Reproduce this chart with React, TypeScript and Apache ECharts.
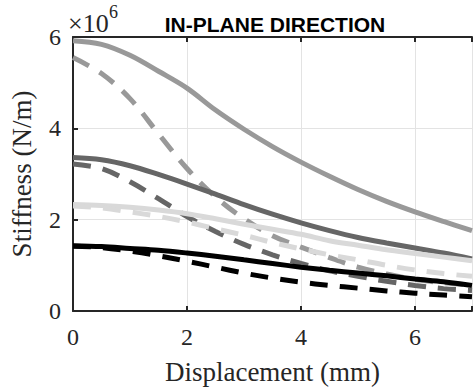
import React, { useEffect, useRef } from "react";
import * as echarts from "echarts";

const X = [0, 0.5, 1, 1.5, 2, 2.5, 3, 3.5, 4, 4.5, 5, 5.5, 6, 6.5, 7];
const grayHighSolid = [5.92, 5.84, 5.6, 5.25, 4.88, 4.4, 3.98, 3.6, 3.26, 2.95, 2.66, 2.4, 2.17, 1.96, 1.76];
const grayHighDashed = [5.55, 5.2, 4.65, 3.88, 3.12, 2.5, 2.02, 1.65, 1.4, 1.17, 0.96, 0.81, 0.69, 0.62, 0.56];
const grayMidSolid = [3.36, 3.31, 3.18, 2.99, 2.78, 2.56, 2.33, 2.12, 1.93, 1.76, 1.61, 1.49, 1.38, 1.27, 1.14];
const grayMidDashed = [3.22, 3.12, 2.83, 2.46, 2.07, 1.74, 1.46, 1.23, 1.04, 0.88, 0.76, 0.65, 0.56, 0.49, 0.45];
const lightSolid = [2.33, 2.31, 2.27, 2.21, 2.13, 2.02, 1.9, 1.79, 1.68, 1.54, 1.44, 1.34, 1.26, 1.18, 1.1];
const lightDashed = [2.3, 2.26, 2.17, 2.07, 1.95, 1.8, 1.66, 1.5, 1.36, 1.23, 1.12, 1.0, 0.9, 0.82, 0.76];
const blackSolid = [1.43, 1.41, 1.37, 1.33, 1.27, 1.2, 1.12, 1.04, 0.96, 0.89, 0.83, 0.77, 0.7, 0.64, 0.56];
const blackDashed = [1.42, 1.39, 1.31, 1.21, 1.09, 0.96, 0.83, 0.72, 0.63, 0.56, 0.5, 0.44, 0.39, 0.35, 0.31];

const xTicks = [0, 2, 4, 6];
const yTicks = [0, 2, 4, 6];

const SERIF = "Liberation Serif";
const SANS = "Liberation Sans";

function mk(values: number[], color: string, dashed: boolean) {
  return {
    type: "line",
    data: X.map((x, i) => [x, values[i]]),
    smooth: 0.35,
    showSymbol: false,
    symbol: "none",
    lineStyle: {
      color,
      width: 5,
      type: dashed ? [18, 12] : "solid",
      cap: "butt",
    },
    z: 3,
  };
}

export default function App() {
  const ref = useRef<HTMLDivElement>(null);
  useEffect(() => {
    if (!ref.current) return;
    const chart = echarts.init(ref.current, null, { renderer: "svg" });
    const axisColor = "#262626";
    chart.setOption({
      animation: false,
      backgroundColor: "#ffffff",
      grid: { left: 67, top: 37, width: 409.5, height: 280, containLabel: false },
      title: {
        text: "IN-PLANE DIRECTION",
        left: 270,
        top: 9,
        textAlign: "center",
        textStyle: { fontFamily: SANS, fontWeight: "bold", fontSize: 21, color: "#000" },
      },
      xAxis: [
        {
          type: "value",
          min: 0,
          max: 7,
          interval: 2,
          position: "bottom",
          name: "Displacement (mm)",
          nameLocation: "middle",
          nameGap: 47,
          nameTextStyle: { fontFamily: SERIF, fontSize: 27, color: axisColor },
          axisLine: { show: true, lineStyle: { color: axisColor, width: 2 } },
          axisTick: { show: true, inside: true, length: 5, lineStyle: { color: axisColor, width: 2 } },
          axisLabel: {
            fontFamily: SERIF,
            fontSize: 24,
            color: axisColor,
            margin: 14,
            formatter: (v: number) => (xTicks.includes(v) ? String(v) : ""),
          },
          splitLine: { show: true, lineStyle: { color: "#e3e3e3", width: 1 } },
        },
        {
          type: "value",
          min: 0,
          max: 7,
          interval: 2,
          position: "top",
          axisLine: { show: true, lineStyle: { color: axisColor, width: 2 } },
          axisTick: { show: true, inside: true, length: 5, lineStyle: { color: axisColor, width: 2 } },
          axisLabel: { show: false },
          splitLine: { show: false },
        },
      ],
      yAxis: [
        {
          type: "value",
          min: 0,
          max: 6,
          interval: 2,
          position: "left",
          name: "Stiffness (N/m)",
          nameLocation: "middle",
          nameGap: 38,
          nameTextStyle: { fontFamily: SERIF, fontSize: 27, color: axisColor },
          axisLine: { show: true, lineStyle: { color: axisColor, width: 2 } },
          axisTick: { show: true, inside: true, length: 5, lineStyle: { color: axisColor, width: 2 } },
          axisLabel: {
            fontFamily: SERIF,
            fontSize: 24,
            color: axisColor,
            margin: 12,
            formatter: (v: number) => (yTicks.includes(v) ? String(v) : ""),
          },
          splitLine: { show: true, lineStyle: { color: "#e3e3e3", width: 1 } },
        },
      ],
      graphic: [
        {
          type: "text",
          left: 68,
          top: 10,
          style: { text: "×10", fontFamily: SERIF, fontSize: 26, fill: axisColor },
          z: 10,
        },
        {
          type: "text",
          left: 109,
          top: 3,
          style: { text: "6", fontFamily: SERIF, fontSize: 18, fill: axisColor },
          z: 10,
        },
      ],
      series: [
        mk(grayHighSolid, "#999999", false),
        mk(grayHighDashed, "#999999", true),
        mk(grayMidSolid, "#666666", false),
        mk(grayMidDashed, "#666666", true),
        mk(lightSolid, "#d9d9d9", false),
        mk(lightDashed, "#d9d9d9", true),
        mk(blackSolid, "#000000", false),
        mk(blackDashed, "#000000", true),
      ],
    });
    return () => chart.dispose();
  }, []);
  return (
    <div
      ref={ref}
      style={{ position: "fixed", left: 0, top: 0, width: 475, height: 390, background: "#fff" }}
    />
  );
}
